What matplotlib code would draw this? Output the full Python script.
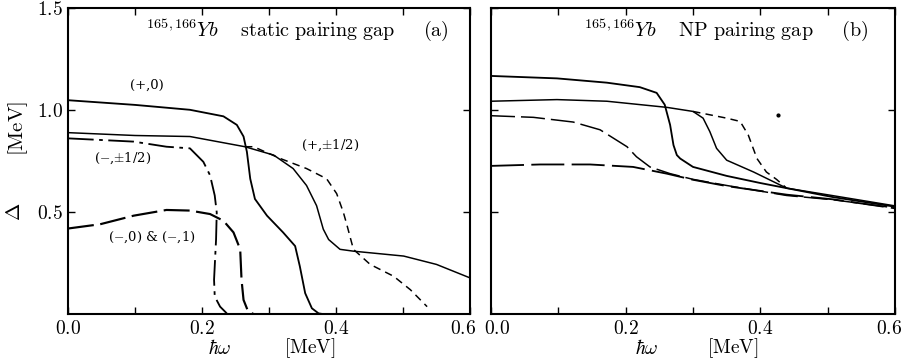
import matplotlib
matplotlib.use("Agg")
import matplotlib.pyplot as plt
from matplotlib.transforms import ScaledTranslation

plt.rcParams['mathtext.fontset'] = 'cm'
plt.rcParams['font.family'] = 'serif'
plt.rcParams['font.serif'] = ['DejaVu Serif']

################## data ##################

# panel (a): static pairing gap
a_p0_x = [0.0, 0.10, 0.182, 0.232, 0.252, 0.262, 0.267, 0.272, 0.279, 0.297, 0.321, 0.339, 0.346, 0.354, 0.364, 0.374, 0.380]
a_p0_y = [1.048, 1.025, 1.001, 0.969, 0.927, 0.870, 0.795, 0.663, 0.564, 0.482, 0.40, 0.333, 0.234, 0.102, 0.028, 0.003, 0.0]

a_ph_x = [0.0, 0.10, 0.182, 0.264, 0.307, 0.336, 0.356, 0.371, 0.381, 0.389, 0.406, 0.426, 0.501, 0.550, 0.600]
a_ph_y = [0.889, 0.875, 0.870, 0.820, 0.779, 0.713, 0.630, 0.531, 0.416, 0.365, 0.317, 0.308, 0.284, 0.243, 0.177]

a_phd_x = [0.264, 0.277, 0.317, 0.356, 0.386, 0.401, 0.411, 0.416, 0.426, 0.451, 0.486, 0.511, 0.536]
a_phd_y = [0.820, 0.820, 0.762, 0.713, 0.663, 0.590, 0.498, 0.440, 0.317, 0.243, 0.185, 0.119, 0.036]

a_mh_x = [0.0, 0.098, 0.147, 0.182, 0.202, 0.212, 0.219, 0.222, 0.221, 0.218, 0.219, 0.227, 0.237]
a_mh_y = [0.861, 0.845, 0.820, 0.812, 0.746, 0.680, 0.581, 0.498, 0.366, 0.168, 0.086, 0.036, 0.003]

a_m01_x = [0.0, 0.048, 0.098, 0.147, 0.182, 0.212, 0.232, 0.247, 0.257, 0.259, 0.262, 0.269, 0.277]
a_m01_y = [0.419, 0.440, 0.482, 0.510, 0.507, 0.490, 0.457, 0.400, 0.317, 0.168, 0.069, 0.011, 0.0]

a_labels = ['(+,0)', '(+,$\\pm$1/2)', '($-$,$\\pm$1/2)', '($-$,0) & ($-$,1)']
a_label_x = [0.118, 0.391, 0.082, 0.125]
a_label_y = [1.119, 0.827, 0.762, 0.376]

# panel (b): NP pairing gap
b1_x = [0.0, 0.098, 0.172, 0.221, 0.246, 0.258, 0.266, 0.271, 0.276, 0.281, 0.300, 0.350, 0.400, 0.439, 0.508, 0.600]
b1_y = [1.167, 1.155, 1.134, 1.112, 1.084, 1.026, 0.927, 0.828, 0.779, 0.762, 0.721, 0.677, 0.642, 0.617, 0.573, 0.526]

b2_x = [0.0, 0.098, 0.172, 0.261, 0.300, 0.315, 0.325, 0.335, 0.350, 0.390, 0.439, 0.508, 0.600]
b2_y = [1.043, 1.051, 1.043, 1.013, 0.993, 0.960, 0.894, 0.812, 0.754, 0.696, 0.617, 0.580, 0.530]

b3_x = [0.300, 0.350, 0.370, 0.382, 0.395, 0.409, 0.424, 0.439]
b3_y = [0.993, 0.960, 0.944, 0.878, 0.762, 0.696, 0.660, 0.617]

b4_x = [0.0, 0.063, 0.122, 0.162, 0.202, 0.216, 0.236, 0.266, 0.300, 0.350, 0.439, 0.508, 0.600]
b4_y = [0.972, 0.964, 0.941, 0.903, 0.820, 0.771, 0.721, 0.688, 0.660, 0.630, 0.581, 0.560, 0.520]

b5_x = [0.0, 0.073, 0.147, 0.211, 0.261, 0.300, 0.350, 0.439, 0.508, 0.600]
b5_y = [0.726, 0.733, 0.733, 0.721, 0.688, 0.658, 0.627, 0.585, 0.562, 0.518]

b_dot_x = [0.426]
b_dot_y = [0.975]

x_ticks = [0.0, 0.2, 0.4, 0.6]
y_ticks = [0.5, 1.0, 1.5]

################## plotting ##################

W, H = 902, 364
fig = plt.figure(figsize=(W / 100, H / 100), dpi=100)
ax_a = fig.add_axes([68 / W, 1 - 314 / H, 402 / W, 306 / H])
ax_b = fig.add_axes([491 / W, 1 - 314 / H, 404 / W, 306 / H])

lw = 1.2
short_dash = (0, (5, 3.5))

ax_a.plot(a_p0_x, a_p0_y, color='k', lw=lw * 1.1)
ax_a.plot(a_ph_x, a_ph_y, color='k', lw=lw * 0.9)
ax_a.plot(a_phd_x, a_phd_y, color='k', lw=lw * 0.9, linestyle=short_dash)
ax_a.plot(a_mh_x, a_mh_y, color='k', lw=lw * 1.1, linestyle=(0, (14, 3, 2, 3)))
ax_a.plot(a_m01_x, a_m01_y, color='k', lw=lw * 1.3, linestyle=(0, (12, 3)))
for t, x, y in zip(a_labels, a_label_x, a_label_y):
    ax_a.text(x, y, t, fontsize=9.5, ha='center', va='center')

ax_b.plot(b1_x, b1_y, color='k', lw=lw * 1.1)
ax_b.plot(b2_x, b2_y, color='k', lw=lw * 0.9)
ax_b.plot(b3_x, b3_y, color='k', lw=lw * 0.9, linestyle=short_dash)
ax_b.plot(b4_x, b4_y, color='k', lw=lw * 0.9, linestyle=(0, (16, 4)))
ax_b.plot(b5_x, b5_y, color='k', lw=lw * 1.1, linestyle=(0, (18, 4)))
ax_b.plot(b_dot_x, b_dot_y, 'o', color='k', ms=2)

titles = [r'$^{165,166}Yb\quad\ \mathrm{static\ pairing\ gap}\quad\ \ \mathrm{(a)}$',
          r'$^{165,166}Yb\quad\ \mathrm{NP\ pairing\ gap}\quad\ \ \mathrm{(b)}$']
title_x = [146, 584]
for ax, t, tx in zip([ax_a, ax_b], titles, title_x):
    ax.set_xlim(0, 0.6)
    ax.set_ylim(0, 1.5)
    ax.set_xticks(x_ticks)
    ax.set_xticks([0.1, 0.3, 0.5], minor=True)
    ax.set_yticks(y_ticks)
    ax.tick_params(which='both', direction='in', top=True, right=True, length=5, width=1)
    ax.tick_params(axis='x', pad=4)
    ax.set_xticklabels(['$%.1f$' % v for v in x_ticks], fontsize=14)
    for s in ax.spines.values():
        s.set_linewidth(1.5)
    fig.text(tx / W, 1 - 30 / H, t, fontsize=14.5, ha='left', va='center')

ax_a.set_yticklabels(['$%.1f$' % v for v in y_ticks], fontsize=14)
ax_b.set_yticklabels([])

# nudge the labels where the two panels meet, so "0.6" and "0.0" sit side by side
def nudge(label, dx_px):
    label.set_transform(label.get_transform() + ScaledTranslation(dx_px / 100, 0, fig.dpi_scale_trans))

nudge(ax_a.get_xticklabels()[-1], -7)
nudge(ax_b.get_xticklabels()[0], 6)
nudge(ax_b.get_xticklabels()[-1], -6)

# axis labels placed as in the figure
fig.text(18 / W, 1 - 128 / H, r'$[\mathrm{MeV}]$', fontsize=15, rotation=90, ha='center', va='center')
fig.text(15 / W, 1 - 212 / H, r'$\Delta$', fontsize=15, rotation=90, ha='center', va='center')
for hx, mx in [(220, 310), (647, 733)]:
    fig.text(hx / W, 1 - 348 / H, r'$\hbar\omega$', fontsize=14, ha='center', va='center')
    fig.text(mx / W, 1 - 348 / H, r'$[\mathrm{MeV}]$', fontsize=14, ha='center', va='center')

plt.savefig("out.png", dpi=100)
